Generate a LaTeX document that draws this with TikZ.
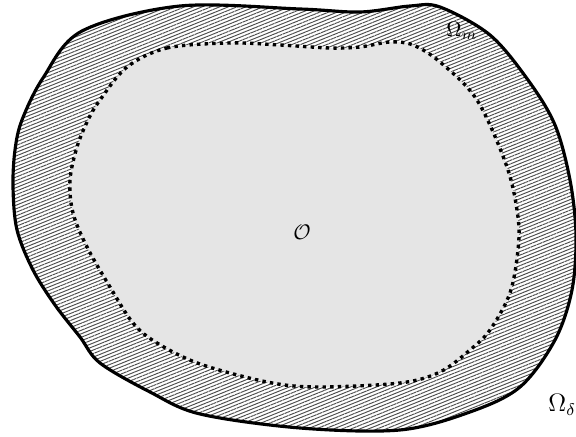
\documentclass[tikz,border=0pt]{standalone}
\usepackage{tikz}
\usetikzlibrary{patterns.meta}

\begin{document}
\begin{tikzpicture}[
  x=0.0167cm,y=-0.0167cm,
  outer/.style={draw=black,line width=1.5pt,
    pattern={Lines[angle=22,distance=1.55pt,line width=0.45pt]},pattern color=black!70},
  inner/.style={draw=black,fill=gray!20,line width=1.6pt,dotted},
  lab/.style={inner sep=0pt,font=\normalsize}
]
\useasboundingbox (0,0) rectangle (576,437);
% outer domain
\draw[outer] plot[smooth cycle,tension=0.55] coordinates {
  (82,31) (180,6) (300,9) (360,12) (410,6) (440,7) (490,35) (528,80)
  (555,125) (570,180) (576,235) (572,290) (555,340) (520,387) (470,412)
  (400,430) (300,428) (200,414) (150,392) (100,363) (80,337) (55,305)
  (33,270) (17,230) (13,187) (15,150) (22,120) (43,78)};
% inner domain
\draw[inner] plot[smooth cycle,tension=0.55] coordinates {
  (127,67) (167,48) (230,43) (280,45) (330,48) (360,47) (390,42) (413,45)
  (440,62) (477,100) (507,167) (518,217) (518,250) (510,293) (490,330)
  (470,350) (440,372) (400,383) (317,387) (267,382) (200,364) (157,343)
  (133,323) (110,287) (87,247) (73,213) (70,180) (77,147) (88,120) (100,100)};
\node[lab] (omegam) at (462,31) {$\Omega_m$};
\node[lab] (obs) at (302,232) {$\mathcal{O}$};
\node[lab,anchor=west,font=\large] (omegad) at (548,405) {$\Omega_\delta$};
\end{tikzpicture}
\end{document}
